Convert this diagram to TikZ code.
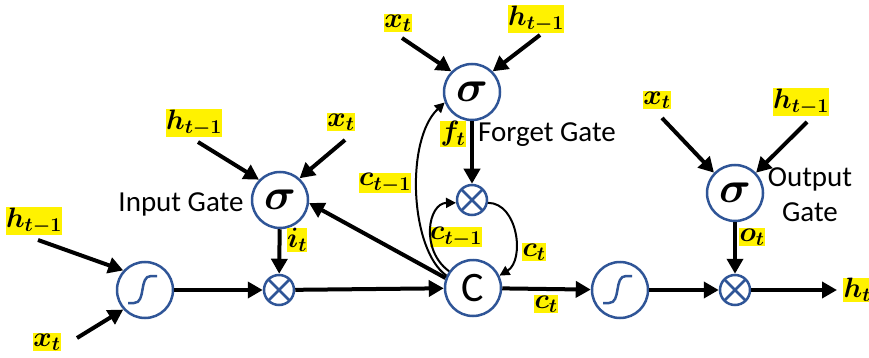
\documentclass[tikz,border=0pt]{standalone}
\usepackage{fix-cm}
\usepackage{amsmath}
\usepackage{fontspec}
\setmainfont{Carlito}
\usetikzlibrary{arrows.meta}
\definecolor{gblue}{RGB}{47,85,151}
\begin{document}
\begin{tikzpicture}[x=1pt,y=-1pt]
\tikzstyle{circ}=[circle, draw=gblue, line width=2.5pt, fill=white, minimum size=56pt, inner sep=0]
\tikzstyle{mult}=[circ, minimum size=30pt, path picture={\draw[gblue, line width=2.5pt](path picture bounding box.north west)--(path picture bounding box.south east)(path picture bounding box.north east)--(path picture bounding box.south west);}]
\tikzstyle{tanhc}=[circ, path picture={\draw[gblue, line width=2.5pt]([shift={(-17,13)}]path picture bounding box.center)--++(6,0)to[out=0, in=180]++(17,-27)--++(6,0);}]
\tikzstyle{sig}=[circ, font=\fontsize{44}{46}\selectfont]
\tikzstyle{lbl}=[fill=yellow, inner sep=0.5pt, font=\fontsize{28}{32}\selectfont]
\tikzstyle{txt}=[inner sep=0, font=\fontsize{29}{35}\selectfont, align=center]
\tikzstyle{arr}=[line width=4pt, -{Triangle[length=15pt, width=16pt]}]
\tikzstyle{thinarr}=[line width=2pt, -{Triangle[length=10pt, width=10pt]}]
\useasboundingbox(0,0)rectangle(869,358);
\node[tanhc](tA)at(145,290){};
\node[mult](mI)at(279,290){};
\node[sig](sI)at(280,200){$\boldsymbol{\sigma}$};
\node[circ, font=\fontsize{42}{44}\selectfont](cC)at(473,288){C};
\node[mult](mF)at(472,200){};
\node[sig](sF)at(472,92){$\boldsymbol{\sigma}$};
\node[tanhc](tB)at(620,290){};
\node[mult](mO)at(735,290){};
\node[sig](sO)at(735,193){$\boldsymbol{\sigma}$};
\node[lbl](hL)at(34,221){$\boldsymbol{h_{t-1}}$};
\node[lbl](xL)at(47,342){$\boldsymbol{x_t}$};
\node[lbl](hI)at(194,123){$\boldsymbol{h_{t-1}}$};
\node[lbl](xI)at(341,122){$\boldsymbol{x_t}$};
\node[lbl](iI)at(297,240){$\boldsymbol{i_t}$};
\node[lbl](xF)at(398,23){$\boldsymbol{x_t}$};
\node[lbl](hF)at(536,19){$\boldsymbol{h_{t-1}}$};
\node[lbl](fF)at(453,134){$\boldsymbol{f_t}$};
\node[lbl](cA)at(385,183){$\boldsymbol{c_{t-1}}$};
\node[lbl](cB)at(456,237){$\boldsymbol{c_{t-1}}$};
\node[lbl](cD)at(534,252){$\boldsymbol{c_t}$};
\node[lbl](cE)at(546,304){$\boldsymbol{c_t}$};
\node[lbl](xO)at(657,100){$\boldsymbol{x_t}$};
\node[lbl](hO)at(801,102){$\boldsymbol{h_{t-1}}$};
\node[lbl](oO)at(752,237){$\boldsymbol{o_t}$};
\node[lbl, anchor=west](hT)at(843,290){$\boldsymbol{h_t}$};
\node[txt](gI)at(181,204){Input Gate};
\node[txt, anchor=west](gF)at(478,135){Forget Gate};
\node[txt](gO)at(810,195){Output\\Gate};
\coordinate(hLe)at(38,240);
\coordinate(xLe)at(77,338);
\coordinate(hIe)at(198,142);
\coordinate(xIe)at(345,140);
\coordinate(xFe)at(402,38);
\coordinate(hFe)at(540,35);
\coordinate(xOe)at(662,118);
\coordinate(hOe)at(807,122);
\draw[arr](hLe)--(tA.138);
\draw[arr](xLe)--(tA.222);
\draw[arr](tA)--(mI);
\draw[arr](hIe)--(sI.136);
\draw[arr](xIe)--(sI.48);
\draw[arr](sI)--(mI);
\draw[arr](mI)--(cC);
\draw[arr](cC.160)--(sI.-6);
\draw[thinarr](cC.155)..controls(410,250)and(405,140)..(sF.201);
\draw[arr](xFe)--(sF.135);
\draw[arr](hFe)--(sF.45);
\draw[arr](sF)--(mF);
\draw[thinarr](cC.145)..controls(420,250)and(428,203)..(mF.190);
\draw[thinarr](mF.-10)..controls(518,203)and(525,260)..(cC.25);
\draw[arr](cC)--(tB);
\draw[arr](tB)--(mO);
\draw[arr](xOe)--(sO.136);
\draw[arr](hOe)--(sO.44);
\draw[arr](sO)--(mO);
\draw[arr](mO)--([xshift=-6pt]hT.west);
\end{tikzpicture}
\end{document}
